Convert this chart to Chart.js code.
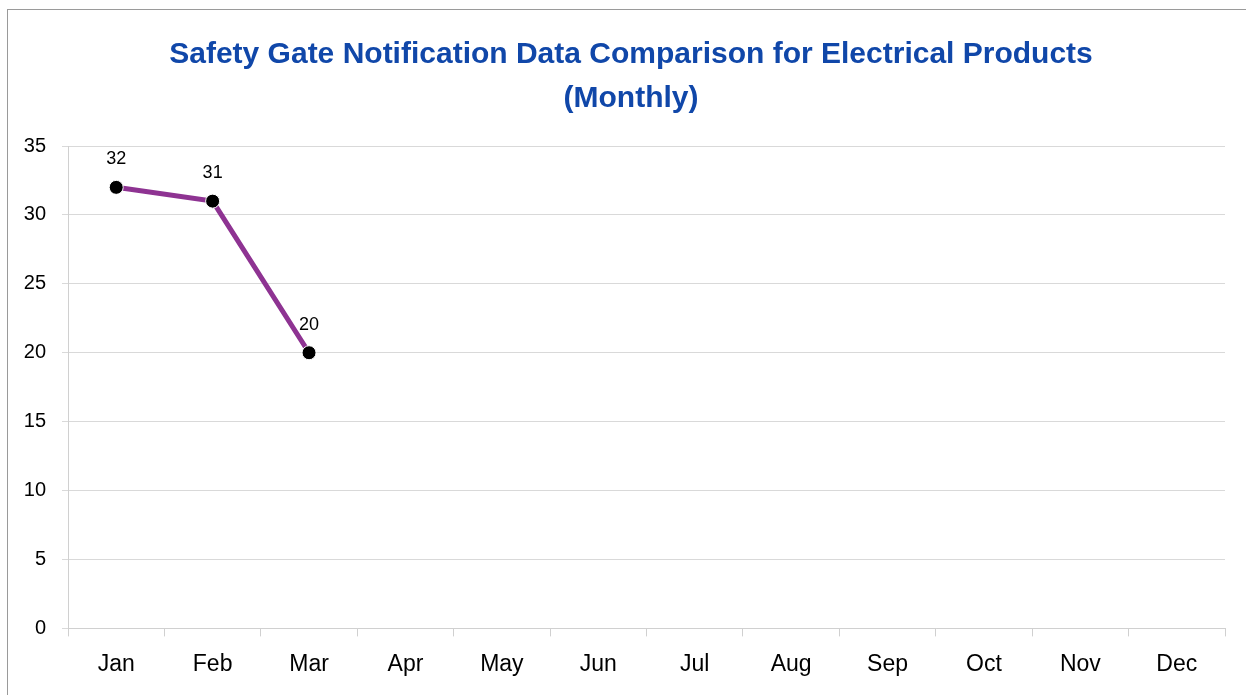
<!DOCTYPE html>
<html>
<head>
<meta charset="utf-8">
<script src="https://cdn.jsdelivr.net/npm/chart.js@4"></script>
<style>
  html, body { margin: 0; padding: 0; background: #fff; overflow: hidden; }
  #frame { position: absolute; left: 7px; top: 9px; width: 1260px; height: 700px;
           border-left: 1px solid #9a9a9a; border-top: 1px solid #9a9a9a; }
  #wrap { position: absolute; left: 0; top: 0; width: 1246px; height: 695px; }
</style>
</head>
<body>
<div id="frame"></div>
<div id="wrap"><canvas id="chart"></canvas></div>
<script>
const months = ['Jan', 'Feb', 'Mar', 'Apr', 'May', 'Jun', 'Jul', 'Aug', 'Sep', 'Oct', 'Nov', 'Dec'];
const notifications = [32, 31, 20, null, null, null, null, null, null, null, null, null];
const yTicks = [0, 5, 10, 15, 20, 25, 30, 35];

const FONT = '"Liberation Sans Narrow", "Arial Narrow", "Liberation Sans", sans-serif';

/*
* Escreve o valor acima de cada ponto (como os rótulos de dados do Excel).
*/
const pointLabels = {
  id: 'pointLabels',
  afterDatasetsDraw(chart) {
    const ctx = chart.ctx;
    const meta = chart.getDatasetMeta(0);
    ctx.save();
    ctx.font = '18px ' + FONT;
    ctx.fillStyle = '#000';
    ctx.textAlign = 'center';
    ctx.textBaseline = 'bottom';
    meta.data.forEach((pt, i) => {
      const v = notifications[i];
      if (v === null) return;
      ctx.fillText(String(v), pt.x, pt.y - 19);
    });
    ctx.restore();
  }
};

/*
* O título do original fica um pouco deslocado para a direita.
*/
const shiftTitle = {
  id: 'shiftTitle',
  afterLayout(chart) {
    if (chart.titleBlock) chart.titleBlock.left += 37;
  }
};

const ctx = document.getElementById('chart');

new Chart(ctx, {
  type: 'line',
  data: {
    labels: months,
    datasets: [{
      label: 'Notifications',
      data: notifications,
      borderColor: '#8E3392',
      borderWidth: 5,
      pointBackgroundColor: '#000',
      pointBorderColor: '#fff',
      pointBorderWidth: 1,
      pointRadius: 7,
      tension: 0,
      spanGaps: false
    }]
  },
  options: {
    responsive: true,
    maintainAspectRatio: false,
    animation: false,
    layout: { padding: { top: 0, right: 21, bottom: 3, left: 0 } },
    plugins: {
      legend: { display: false },
      tooltip: { enabled: false },
      title: {
        display: true,
        text: ['Safety Gate Notification Data Comparison for Electrical Products', '(Monthly)'],
        color: '#1047A9',
        font: { family: FONT, size: 30, weight: 'bold', lineHeight: 1.45 },
        padding: { top: 33, bottom: 26 }
      }
    },
    scales: {
      x: {
        offset: true,
        grid: {
          offset: true,
          drawOnChartArea: false,
          color: '#d0d0d0',
          tickLength: 8
        },
        border: { color: '#d0d0d0' },
        ticks: { color: '#000', font: { family: FONT, size: 23 }, padding: 14 }
      },
      y: {
        min: 0,
        max: 35,
        afterBuildTicks: axis => { axis.ticks = yTicks.map(v => ({ value: v })); },
        afterFit: axis => { axis.width = 68; },
        grid: { color: '#d9d9d9', tickLength: 6 },
        border: { color: '#d0d0d0' },
        ticks: { color: '#000', font: { family: FONT, size: 20 }, padding: 16 }
      }
    }
  },
  plugins: [pointLabels, shiftTitle]
});
</script>
</body>
</html>
